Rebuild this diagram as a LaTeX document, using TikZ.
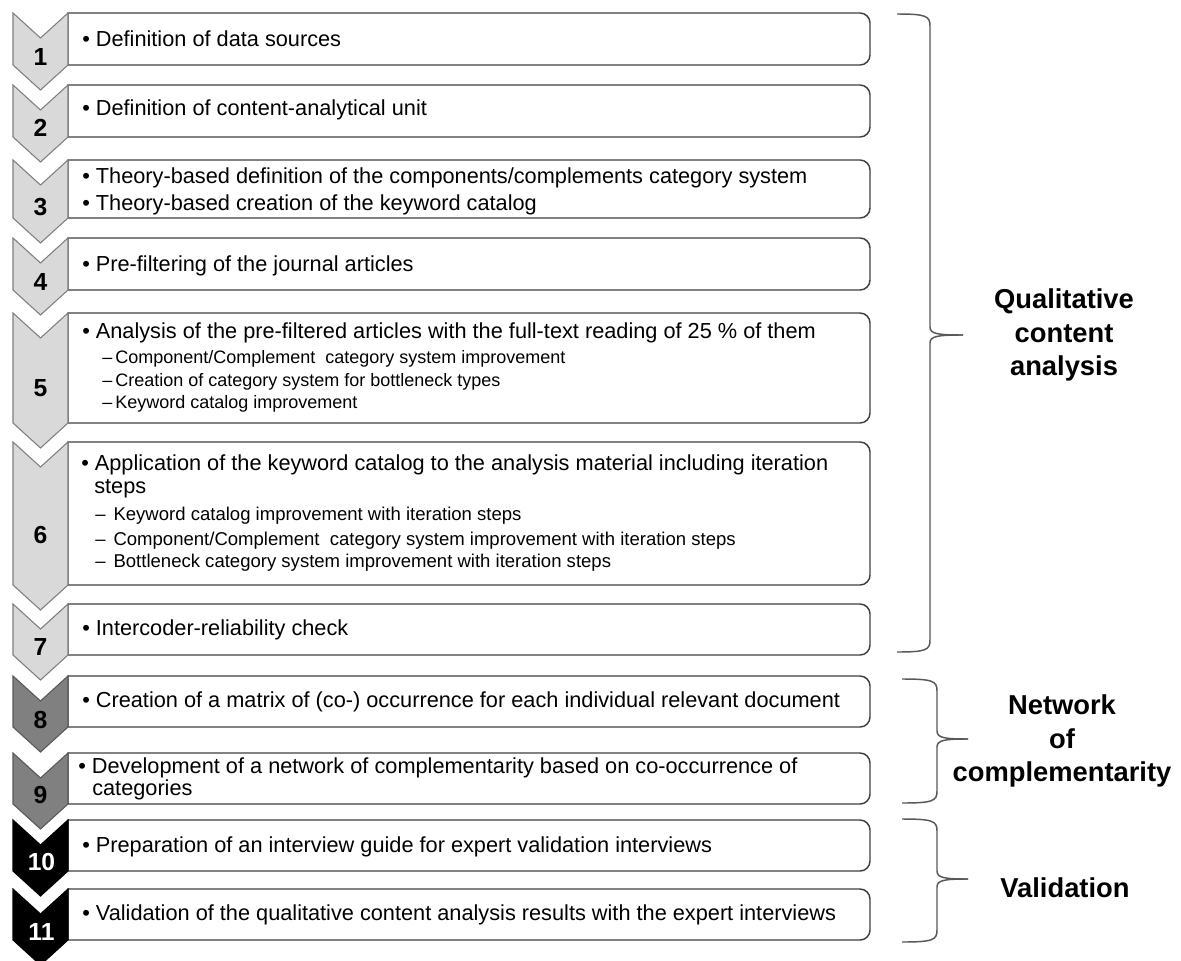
\documentclass[tikz,border=0pt]{standalone}
\usepackage{fontspec}
\setmainfont{Liberation Sans}
\definecolor{boxedge}{HTML}{404040}
\definecolor{lightfill}{HTML}{D9D9D9}
\definecolor{lightedge}{HTML}{7F7F7F}
\definecolor{midfill}{HTML}{808080}
\definecolor{midedge}{HTML}{595959}
\definecolor{braceline}{HTML}{595959}

% rounded-right box between two y values
\newcommand{\stepbox}[2]{%
  \draw[boxline] (68,#1) -- (860,#1) .. controls (865.5,#1) and (870,{#1+4.5}) .. (870,{#1+10})
    -- (870,{#2-10}) .. controls (870,{#2-4.5}) and (865.5,#2) .. (860,#2) -- (68,#2) -- cycle;}
% chevron marker spanning a box
\newcommand{\chev}[3]{%
  \draw[#3] (13,#1) -- (40.5,{#1+25}) -- (68,#1) -- (68,#2) -- (40.5,{#2+25}) -- (13,#2) -- cycle;}
% curly bracket: left end x, spine x, tip x, top y, tip y, bottom y
\newcommand{\brc}[6]{%
  \draw[bracket] (#1,#4) .. controls ({#2-4},#4) and (#2,{#4+2}) .. (#2,{#4+12})
    -- (#2,{#5-8}) .. controls (#2,{#5-1}) and ({#2+8},#5) .. (#3,#5);
  \draw[bracket] (#3,#5) .. controls ({#2+8},#5) and (#2,{#5+1}) .. (#2,{#5+8})
    -- (#2,{#6-12}) .. controls (#2,{#6-2}) and ({#2-4},#6) .. (#1,#6);}

\begin{document}
\begin{tikzpicture}[x=0.75pt,y=-0.75pt,
  boxline/.style={draw=boxedge, line width=1.1pt, fill=white},
  chevlight/.style={fill=lightfill, draw=lightedge, line width=0.8pt},
  chevmid/.style={fill=midfill, draw=midedge, line width=0.8pt},
  chevdark/.style={fill=black, draw=black, line width=0.8pt},
  bracket/.style={draw=braceline, line width=1.1pt},
  maintxt/.style={anchor=base west, inner sep=0pt, font=\fontsize{16.3}{19}\selectfont},
  subtxt/.style={anchor=base west, inner sep=0pt, font=\fontsize{13.5}{16}\selectfont},
  subwide/.style={anchor=base west, inner sep=0pt, font=\fontsize{13.9}{16}\selectfont},
  numtxt/.style={inner sep=0pt, font=\fontsize{18.5}{20}\selectfont\bfseries},
  grouptxt/.style={align=center, inner sep=0pt, font=\fontsize{20.5}{25}\selectfont\bfseries}]

\useasboundingbox (0,0) rectangle (1181,960);
\clip (0,0) rectangle (1181,960);
\fill[white] (0,0) rectangle (1181,960);

% step boxes
\stepbox{13}{65}
\stepbox{85}{137}
\stepbox{160}{218}
\stepbox{238}{290}
\stepbox{313}{423}
\stepbox{442}{585}
\stepbox{604}{655}
\stepbox{676}{727}
\stepbox{753}{804}
\stepbox{820}{871}
\stepbox{889}{940}

% chevrons
\chev{13}{65}{chevlight}
\chev{85}{137}{chevlight}
\chev{160}{218}{chevlight}
\chev{238}{290}{chevlight}
\chev{313}{423}{chevlight}
\chev{442}{585}{chevlight}
\chev{604}{655}{chevlight}
\chev{676}{727}{chevmid}
\chev{753}{804}{chevmid}
\chev{820}{871}{chevdark}
\chev{889}{940}{chevdark}

% step numbers
\node[numtxt] (n1) at (40.5,57.5) {1};
\node[numtxt] (n2) at (40.5,128) {2};
\node[numtxt] (n3) at (40.5,207) {3};
\node[numtxt] (n4) at (40.5,282) {4};
\node[numtxt] (n5) at (40.5,388) {5};
\node[numtxt] (n6) at (40.5,535) {6};
\node[numtxt] (n7) at (40.5,647) {7};
\node[numtxt] (n8) at (40.5,720) {8};
\node[numtxt] (n9) at (40.5,795) {9};
\node[numtxt, text=white] (n10) at (41.5,862) {10};
\node[numtxt, text=white] (n11) at (41.5,932) {11};

% step texts
\node[maintxt] (t1) at (82,46) {• Definition of data sources};
\node[maintxt] (t2) at (82,115) {• Definition of content-analytical unit};
\node[maintxt] (t3a) at (82,183) {• Theory-based definition of the components/complements category system};
\node[maintxt] (t3b) at (82,210) {• Theory-based creation of the keyword catalog};
\node[maintxt] (t4) at (82,271) {• Pre-filtering of the journal articles};
\node[maintxt] (t5) at (82,338) {• Analysis of the pre-filtered articles with the full-text reading of 25 \% of them};
\node[subtxt] (t5a) at (102,363) {–\,Component/Complement\ \ category system improvement};
\node[subtxt] (t5b) at (102,386) {–\,Creation of category system for bottleneck types};
\node[subtxt] (t5c) at (102,408) {–\,Keyword catalog improvement};
\node[maintxt] (t6) at (81,470) {• Application of the keyword catalog to the analysis material including iteration};
\node[maintxt] (t6s) at (94,493) {steps};
\node[subwide] (t6a) at (95,520) {–\hspace{6pt}Keyword catalog improvement with iteration steps};
\node[subwide] (t6b) at (95,545) {–\hspace{6pt}Component/Complement\ \ category system improvement with iteration steps};
\node[subwide] (t6c) at (95,567) {–\hspace{6pt}Bottleneck category system improvement with iteration steps};
\node[maintxt] (t7) at (82,635) {• Intercoder-reliability check};
\node[maintxt] (t8) at (82,707) {• Creation of a matrix of (co-) occurrence for each individual relevant document};
\node[maintxt] (t9) at (78,773) {• Development of a network of complementarity based on co-occurrence of};
\node[maintxt] (t9s) at (92,795) {categories};
\node[maintxt] (t10) at (82,852) {• Preparation of an interview guide for expert validation interviews};
\node[maintxt] (t11) at (82,920) {• Validation of the qualitative content analysis results with the expert interviews};

% group brackets and their labels
\brc{897}{930}{963}{14}{335}{652}
\brc{902}{937}{968}{679}{739}{803}
\brc{902}{937}{968}{819}{879}{942}

\node[grouptxt] (g1) at (1064,335) {Qualitative\\content\\analysis};
\node[grouptxt] (g2) at (1062,741) {Network\\of\\complementarity};
\node[grouptxt] (g3) at (1065,888) {Validation};
\end{tikzpicture}
\end{document}
